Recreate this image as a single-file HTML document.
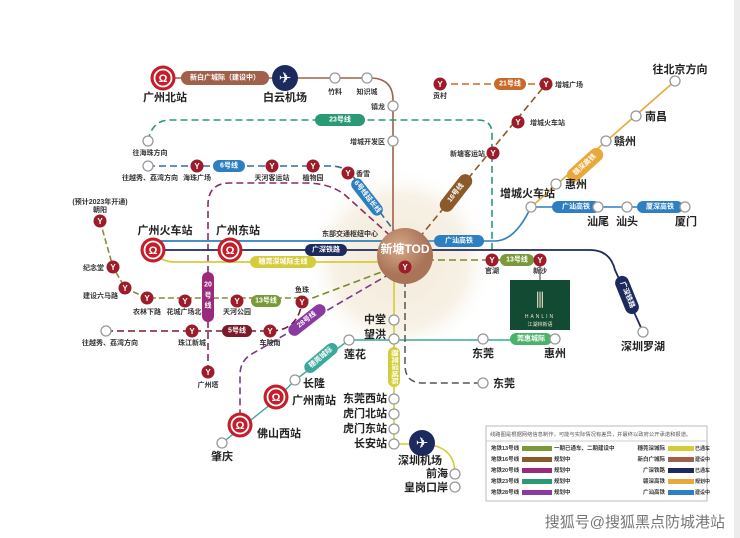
<!DOCTYPE html>
<html><head><meta charset="utf-8"><style>
html,body{margin:0;padding:0;background:#fff;width:740px;height:538px;overflow:hidden}
svg{display:block;font-family:"Liberation Sans","Noto Sans CJK SC",sans-serif}
.t{font-size:7px;fill:#333;font-weight:bold}
.tb{font-size:11px;fill:#222;font-weight:bold}
.pt{font-size:7px;fill:#fff;font-weight:bold;text-anchor:middle;dominant-baseline:central}
</style></head><body>
<svg width="740" height="538" viewBox="0 0 740 538" xmlns="http://www.w3.org/2000/svg">
<defs>
<radialGradient id="halo"><stop offset="0" stop-color="#f3ead8"/><stop offset="0.7" stop-color="#f7f1e6"/><stop offset="1" stop-color="#fff" stop-opacity="0"/></radialGradient>
<radialGradient id="tod" cx="0.4" cy="0.35"><stop offset="0" stop-color="#d7a888"/><stop offset="1" stop-color="#a97458"/></radialGradient>
<g id="ys"><circle r="6.5" fill="#9c1c2a"/><text y="3" text-anchor="middle" font-size="8" fill="#fff" font-weight="bold">Y</text></g>
<g id="es"><circle r="5" fill="#fff" stroke="#999" stroke-width="1.3"/></g>
<g id="rail"><circle r="12.5" fill="#c61d2b"/><circle r="8.5" fill="none" stroke="#fff" stroke-width="1.8"/><text y="4" text-anchor="middle" font-size="11" fill="#fff" font-weight="bold">Ω</text></g>
<g id="plane"><circle r="13" fill="#1d2a5e"/><text y="5" text-anchor="middle" font-size="15" fill="#fff">✈</text></g>
</defs>
<rect x="734" y="0" width="6" height="538" fill="#ececec"/>
<circle cx="400" cy="262" r="95" fill="url(#halo)"/>

<path d="M163 78 H370 Q393 78 393 100 V250" fill="none" stroke="#a0604a" stroke-width="1.6"/>
<path d="M148 141 Q152 120 170 120 H478 Q492 120 492 134 V265" fill="none" stroke="#2a9a74" stroke-width="1.6" stroke-dasharray="7 4"/>
<path d="M148 166 H330 Q345 166 352 175 L398 236" fill="none" stroke="#3a6a9c" stroke-width="1.6" stroke-dasharray="7 4"/>
<path d="M208 372 V205 Q208 183 230 183 H305 Q330 183 345 195 L395 240" fill="none" stroke="#8a2a6a" stroke-width="1.6" stroke-dasharray="7 4"/>
<path d="M153 241 H405" stroke="#2d7fc1" stroke-width="1.8"/>
<path d="M153 250 H405 H590 Q610 250 615 270 L643 332" fill="none" stroke="#1d2a5e" stroke-width="1.8"/>
<path d="M153 250 Q160 262 175 262 H405" fill="none" stroke="#d4cc3a" stroke-width="1.8"/>
<path d="M405 241 H495 Q515 241 531 207 H685" fill="none" stroke="#2d7fc1" stroke-width="1.6"/>
<path d="M531 207 L675 81" stroke="#e8a93a" stroke-width="1.6"/>
<path d="M405 255 L546 84" stroke="#8a5a2a" stroke-width="1.6" stroke-dasharray="7 4"/>
<path d="M440 84 H546" stroke="#c86a2a" stroke-width="1.6" stroke-dasharray="7 4"/>
<path d="M405 260 H540" stroke="#7a8a2a" stroke-width="1.6" stroke-dasharray="7 4"/>
<path d="M100 221 L113 267 L125 288 L147 298 H302" fill="none" stroke="#8a8a3a" stroke-width="1.6" stroke-dasharray="6 3"/>
<path d="M302 302 L400 265" stroke="#7a8a2a" stroke-width="1.6" stroke-dasharray="7 4"/>
<path d="M106 331 H270 Q298 331 302 302" fill="none" stroke="#7a1a2a" stroke-width="1.6" stroke-dasharray="7 4"/>
<path d="M400 268 L250 355 Q240 362 240 375 V425" fill="none" stroke="#7a3a8a" stroke-width="1.6" stroke-dasharray="7 4"/>
<path d="M222 443 L276 400 L295 380 L349 340 H555" fill="none" stroke="#3aa89a" stroke-width="1.4"/>
<path d="M394 255 V444 H422 Q455 445 455 474" fill="none" stroke="#d4cc3a" stroke-width="1.6"/>
<path d="M405 280 V365 Q405 383 423 383 H483" fill="none" stroke="#555" stroke-width="1.5" stroke-dasharray="7 4"/>
<path d="M540 260 V280" stroke="#333" stroke-width="1"/>

<rect x="181" y="71" width="88" height="14" rx="7" fill="#a0604a"/><text x="225" y="78" class="pt">新白广城际（建设中）</text>
<rect x="315" y="114" width="50" height="12" rx="6" fill="#2a9a74"/><text x="340" y="120" class="pt">23号线</text>
<rect x="213" y="160" width="32" height="12" rx="6" fill="#2d7fc1"/><text x="229" y="166" class="pt">6号线</text>
<g transform="translate(367,197) rotate(52)"><rect x="-22" y="-6" width="44" height="12" rx="6" fill="#2d7fc1"/><text class="pt">6号线延长线</text></g>
<rect x="305" y="244" width="42" height="12" rx="6" fill="#1d2a5e"/><text x="326" y="250" class="pt">广深铁路</text>
<rect x="250" y="256" width="66" height="12" rx="6" fill="#d4cc3a"/><text x="283" y="262" class="pt">穗莞深城际主线</text>
<rect x="434" y="235" width="50" height="12" rx="6" fill="#2d7fc1"/><text x="459" y="241" class="pt">广汕高铁</text>
<rect x="552" y="201" width="48" height="12" rx="6" fill="#2d7fc1"/><text x="576" y="207" class="pt">广汕高铁</text>
<rect x="637" y="201" width="46" height="12" rx="6" fill="#2d7fc1"/><text x="660" y="207" class="pt">厦深高铁</text>
<g transform="translate(585,165) rotate(-42)"><rect x="-22" y="-7" width="44" height="14" rx="7" fill="#e8a93a"/><text class="pt">赣深高铁</text></g>
<g transform="translate(456,193) rotate(-52)"><rect x="-22" y="-7" width="44" height="14" rx="7" fill="#8a5a2a"/><text class="pt">16号线</text></g>
<rect x="494" y="78" width="32" height="12" rx="6" fill="#c86a2a"/><text x="510" y="84" class="pt">21号线</text>
<rect x="500" y="254" width="34" height="12" rx="6" fill="#7a9a3a"/><text x="517" y="260" class="pt">13号线</text>
<g transform="translate(627,295) rotate(68)"><rect x="-20" y="-7" width="40" height="14" rx="7" fill="#1d2a5e"/><text class="pt">广深铁路</text></g>
<rect x="251" y="295" width="30" height="12" rx="6" fill="#7a9a3a"/><text x="266" y="301" class="pt">13号线</text>
<rect x="222" y="325" width="30" height="12" rx="6" fill="#7a1a2a"/><text x="237" y="331" class="pt">5号线</text>
<rect x="202" y="272" width="12" height="50" rx="6" fill="#9a2a7a"/><text x="208" y="285" class="pt">20</text><text x="208" y="296" class="pt">号</text><text x="208" y="306" class="pt">线</text>
<g transform="translate(307,320) rotate(-38)"><rect x="-22" y="-6" width="44" height="12" rx="6" fill="#8a3aa0"/><text class="pt">28号线</text></g>
<g transform="translate(321,358) rotate(-40)"><rect x="-20" y="-6" width="40" height="12" rx="6" fill="#3aa89a"/><text class="pt">穗莞城际</text></g>
<rect x="510" y="333" width="42" height="12" rx="6" fill="#4ab36a"/><text x="531" y="339" class="pt">莞惠城际</text>
<rect x="388" y="347" width="12" height="40" rx="6" fill="#d4cc3a"/><text x="394" y="367" class="pt" transform="rotate(90 394 367)">穗莞深城际</text>

<circle cx="405" cy="256" r="28" fill="url(#tod)"/>
<text x="405" y="253" text-anchor="middle" font-size="12" fill="#fff" font-weight="bold">新塘TOD</text>
<use href="#ys" x="405" y="267"/>

<rect x="510" y="280" width="60" height="50" fill="#124a34"/>
<text x="540" y="306" text-anchor="middle" font-size="18" fill="#e8e0c8">⫼</text>
<text x="540" y="318" text-anchor="middle" font-size="5" fill="#e8e0c8" letter-spacing="2">HANLIN</text>
<text x="540" y="326" text-anchor="middle" font-size="5" fill="#e8e0c8">江湖林新语</text>

<use href="#rail" x="163" y="78"/><use href="#plane" x="285" y="78"/>
<use href="#rail" x="153" y="250"/><use href="#rail" x="230" y="250"/>
<use href="#rail" x="276" y="397"/><use href="#rail" x="240" y="425"/>
<use href="#plane" x="422" y="443"/>

<g>
<use href="#es" x="335" y="78"/><use href="#es" x="367" y="78"/><use href="#es" x="393" y="106"/><use href="#es" x="393" y="141"/>
<use href="#es" x="148" y="141"/><use href="#es" x="148" y="166"/>
<use href="#es" x="531" y="207"/><use href="#es" x="598" y="207"/><use href="#es" x="627" y="207"/><use href="#es" x="685" y="207"/>
<use href="#es" x="556" y="184"/><use href="#es" x="606" y="141"/><use href="#es" x="636" y="116"/><use href="#es" x="675" y="81"/>
<use href="#es" x="643" y="332"/>
<use href="#es" x="106" y="331"/>
<use href="#es" x="394" y="320"/><use href="#es" x="394" y="339"/><use href="#es" x="349" y="340"/><use href="#es" x="483" y="339"/><use href="#es" x="555" y="339"/>
<use href="#es" x="483" y="383"/><use href="#es" x="295" y="380"/><use href="#es" x="222" y="443"/>
<use href="#es" x="394" y="399"/><use href="#es" x="394" y="414"/><use href="#es" x="394" y="429"/><use href="#es" x="394" y="444"/>
<use href="#es" x="455" y="474"/><use href="#es" x="455" y="487"/>
</g>
<use href="#ys" x="197" y="166"/><use href="#ys" x="272" y="166"/><use href="#ys" x="313" y="166"/><use href="#ys" x="348" y="173"/>
<use href="#ys" x="440" y="84"/><use href="#ys" x="546" y="84"/><use href="#ys" x="518" y="122"/><use href="#ys" x="493" y="153"/>
<use href="#ys" x="492" y="260"/><use href="#ys" x="540" y="260"/>
<use href="#ys" x="100" y="221"/><use href="#ys" x="113" y="267"/><use href="#ys" x="125" y="288"/><use href="#ys" x="147" y="298"/><use href="#ys" x="185" y="301"/><use href="#ys" x="237" y="301"/><use href="#ys" x="302" y="302"/>
<use href="#ys" x="192" y="331"/><use href="#ys" x="270" y="331"/><use href="#ys" x="208" y="372"/>

<text x="165" y="101" class="tb" text-anchor="middle">广州北站</text>
<text x="285" y="101" class="tb" text-anchor="middle">白云机场</text>
<text x="335" y="94" class="t" text-anchor="middle">竹料</text>
<text x="367" y="94" class="t" text-anchor="middle">知识城</text>
<text x="385" y="109" class="t" text-anchor="end">镇龙</text>
<text x="385" y="144" class="t" text-anchor="end">增城开发区</text>
<text x="150" y="155" class="t" text-anchor="middle">往海珠方向</text>
<text x="150" y="180" class="t" text-anchor="middle" font-size="6.5">往越秀、荔湾方向</text>
<text x="197" y="180" class="t" text-anchor="middle" font-size="6.5">海珠广场</text>
<text x="272" y="180" class="t" text-anchor="middle" font-size="6.5">天河客运站</text>
<text x="313" y="180" class="t" text-anchor="middle" font-size="6.5">植物园</text>
<text x="356" y="176" class="t">香雪</text>
<text x="440" y="98" class="t" text-anchor="middle">贡村</text>
<text x="555" y="87" class="t">增城广场</text>
<text x="530" y="125" class="t">增城火车站</text>
<text x="485" y="156" class="t" text-anchor="end">新塘客运站</text>
<text x="680" y="73" class="tb" text-anchor="middle" font-size="10">往北京方向</text>
<text x="645" y="120" class="tb" font-size="10">南昌</text>
<text x="614" y="145" class="tb" font-size="10">赣州</text>
<text x="565" y="188" class="tb" font-size="10">惠州</text>
<text x="500" y="197" class="tb" font-size="10">增城火车站</text>
<text x="598" y="225" class="tb" text-anchor="middle" font-size="10">汕尾</text>
<text x="627" y="225" class="tb" text-anchor="middle" font-size="10">汕头</text>
<text x="686" y="225" class="tb" text-anchor="middle" font-size="10">厦门</text>
<text x="643" y="350" class="tb" text-anchor="middle" font-size="10">深圳罗湖</text>
<text x="350" y="236" class="t" text-anchor="middle" font-size="6.5">东部交通枢纽中心</text>
<text x="492" y="273" class="t" text-anchor="middle" font-size="6.5">官湖</text>
<text x="540" y="273" class="t" text-anchor="middle" font-size="6.5">新沙</text>
<text x="100" y="204" class="t" text-anchor="middle" font-size="5">(预计2023年开通)</text>
<text x="100" y="212" class="t" text-anchor="middle" font-size="6.5">朝阳</text>
<text x="165" y="234" class="tb" text-anchor="middle">广州火车站</text>
<text x="238" y="234" class="tb" text-anchor="middle">广州东站</text>
<text x="104" y="270" class="t" text-anchor="end">纪念堂</text>
<text x="118" y="298" class="t" text-anchor="end">建设六马路</text>
<text x="147" y="314" class="t" text-anchor="middle" font-size="6.5">农林下路</text>
<text x="184" y="314" class="t" text-anchor="middle" font-size="6.5">花城广场北</text>
<text x="237" y="314" class="t" text-anchor="middle" font-size="6.5">天河公园</text>
<text x="302" y="292" class="t" text-anchor="middle" font-size="6.5">鱼珠</text>
<text x="110" y="345" class="t" text-anchor="middle" font-size="6.5">往越秀、荔湾方向</text>
<text x="192" y="345" class="t" text-anchor="middle" font-size="6.5">珠江新城</text>
<text x="270" y="345" class="t" text-anchor="middle" font-size="6.5">车陂南</text>
<text x="208" y="387" class="t" text-anchor="middle" font-size="6.5">广州塔</text>
<text x="386" y="323" class="tb" text-anchor="end" font-size="10">中堂</text>
<text x="386" y="338" class="tb" text-anchor="end" font-size="10">望洪</text>
<text x="355" y="358" class="tb" text-anchor="middle" font-size="10">莲花</text>
<text x="483" y="357" class="tb" text-anchor="middle" font-size="10">东莞</text>
<text x="555" y="357" class="tb" text-anchor="middle" font-size="10">惠州</text>
<text x="493" y="387" class="tb" font-size="10">东莞</text>
<text x="303" y="387" class="tb" font-size="10">长隆</text>
<text x="292" y="404" class="tb" font-size="10">广州南站</text>
<text x="257" y="437" class="tb" font-size="10">佛山西站</text>
<text x="222" y="460" class="tb" text-anchor="middle" font-size="10">肇庆</text>
<text x="387" y="402" class="tb" text-anchor="end" font-size="9.5">东莞西站</text>
<text x="387" y="417" class="tb" text-anchor="end" font-size="9.5">虎门北站</text>
<text x="387" y="432" class="tb" text-anchor="end" font-size="9.5">虎门东站</text>
<text x="387" y="447" class="tb" text-anchor="end" font-size="9.5">长安站</text>
<text x="420" y="464" class="tb" text-anchor="middle" font-size="10">深圳机场</text>
<text x="448" y="477" class="tb" text-anchor="end" font-size="10">前海</text>
<text x="448" y="491" class="tb" text-anchor="end" font-size="10">皇岗口岸</text>

<rect x="486" y="426" width="221" height="75" fill="#fff" stroke="#bbb" stroke-width="1"/>
<text x="490" y="436" font-size="5.3" fill="#555">线路图是根据网络信息制作，可能与实际情况有差异，并最终以政府公开承诺和报道。</text>
<line x1="486" y1="441" x2="707" y2="441" stroke="#ccc"/>
<g font-size="5.5" fill="#333" font-weight="bold">
<text x="491" y="450">地铁13号线</text><rect x="522" y="446" width="30" height="5" fill="#7a9a3a"/><text x="554" y="450">一期已通车、二期建设中</text>
<text x="491" y="461">地铁16号线</text><rect x="522" y="457" width="30" height="5" fill="#8a5a2a"/><text x="554" y="461">规划中</text>
<text x="491" y="472">地铁20号线</text><rect x="522" y="468" width="30" height="5" fill="#9a2a7a"/><text x="554" y="472">规划中</text>
<text x="491" y="483">地铁23号线</text><rect x="522" y="479" width="30" height="5" fill="#2a9a74"/><text x="554" y="483">规划中</text>
<text x="491" y="494">地铁28号线</text><rect x="522" y="490" width="30" height="5" fill="#8a3aa0"/><text x="554" y="494">规划中</text>
<text x="665" y="450" text-anchor="end">穗莞深城际</text><rect x="668" y="446" width="26" height="5" fill="#d4cc3a"/><text x="695" y="450" font-size="5">已通车</text>
<text x="665" y="461" text-anchor="end">新白广城际</text><rect x="668" y="457" width="26" height="5" fill="#a0604a"/><text x="695" y="461" font-size="5">建设中</text>
<text x="665" y="472" text-anchor="end">广深铁路</text><rect x="668" y="468" width="26" height="5" fill="#1d2a5e"/><text x="695" y="472" font-size="5">已通车</text>
<text x="665" y="483" text-anchor="end">赣深高铁</text><rect x="668" y="479" width="26" height="5" fill="#e8a93a"/><text x="695" y="483" font-size="5">规划中</text>
<text x="665" y="494" text-anchor="end">广汕高铁</text><rect x="668" y="490" width="26" height="5" fill="#2d7fc1"/><text x="695" y="494" font-size="5">建设中</text>
</g>
<text x="725" y="527" text-anchor="end" font-size="15" fill="#777">搜狐号@搜狐黑点防城港站</text>
</svg>
</body></html>
